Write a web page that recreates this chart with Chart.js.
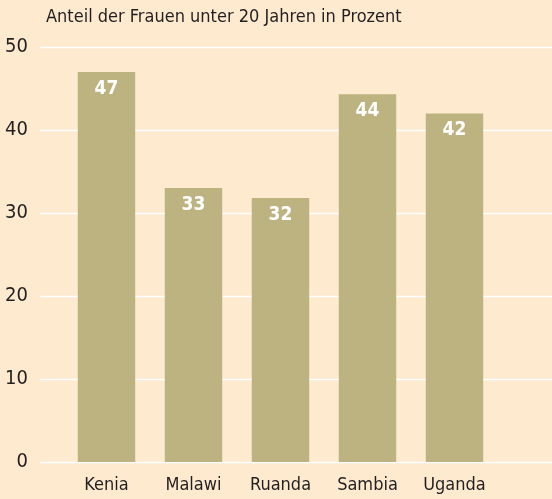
<!DOCTYPE html>
<html>
<head>
<meta charset="utf-8">
<script src="https://cdn.jsdelivr.net/npm/chart.js@4"></script>
<style>
  html, body { margin: 0; padding: 0; background: #fdeacf; overflow: hidden; }
  #wrap { position: relative; width: 552px; height: 499px; }
</style>
</head>
<body>
<div id="wrap"><canvas id="chartContainer"></canvas></div>
<script>
"use strict";

// 1: data
const countries = ['Kenia', 'Malawi', 'Ruanda', 'Sambia', 'Uganda'];
const shares = [47, 33, 31.8, 44.3, 42];
const yTicks = [0, 10, 20, 30, 40, 50];
const titleText = 'Anteil der Frauen unter 20 Jahren in Prozent';

const FONT = '"Liberation Sans Narrow", "DejaVu Sans Condensed", sans-serif';

// 2: little helpers drawn on the canvas
const gridPlugin = {
  id: 'fullGrid',
  beforeDatasetsDraw(chart) {
    const ctx = chart.ctx;
    const y = chart.scales.y;
    ctx.save();
    ctx.strokeStyle = '#ffffff';
    ctx.lineWidth = 1.5;
    for (const t of yTicks) {
      const py = Math.round(y.getPixelForValue(t)) + 0.5;
      ctx.beginPath();
      ctx.moveTo(40, py);
      ctx.lineTo(chart.width, py);
      ctx.stroke();
    }
    ctx.restore();
  }
};

const labelPlugin = {
  id: 'barLabels',
  afterDatasetsDraw(chart) {
    const ctx = chart.ctx;
    const meta = chart.getDatasetMeta(0);
    ctx.save();
    ctx.fillStyle = '#ffffff';
    ctx.font = 'bold 19px ' + FONT;
    ctx.textAlign = 'center';
    ctx.textBaseline = 'middle';
    meta.data.forEach((bar, i) => {
      ctx.fillText(String(Math.round(shares[i])), bar.x, bar.y + 17);
    });
    ctx.restore();
  }
};

const titlePlugin = {
  id: 'leftTitle',
  afterDraw(chart) {
    const ctx = chart.ctx;
    ctx.save();
    ctx.fillStyle = '#231f20';
    ctx.font = '18px ' + FONT;
    ctx.textAlign = 'left';
    ctx.textBaseline = 'middle';
    ctx.fillText(titleText, 46, 17);
    ctx.restore();
  }
};

// 3: create the chart
function appendChart() {
  const canvas = document.getElementById('chartContainer');
  new Chart(canvas, {
    type: 'bar',
    data: {
      labels: countries,
      datasets: [{
        data: shares,
        backgroundColor: '#bdb380',
        borderWidth: 0,
        barPercentage: 0.66,
        categoryPercentage: 1
      }]
    },
    options: {
      responsive: true,
      maintainAspectRatio: false,
      animation: false,
      layout: { padding: { top: 47, right: 54, bottom: 0, left: 0 } },
      plugins: {
        legend: { display: false },
        tooltip: { enabled: false },
        title: { display: false }
      },
      scales: {
        x: {
          grid: { display: false, drawTicks: false },
          border: { display: false },
          ticks: {
            color: '#231f20',
            font: { family: FONT, size: 18 },
            padding: 13,
            maxRotation: 0
          },
          afterFit(scale) { scale.height = 37; }
        },
        y: {
          min: 0,
          max: 50,
          afterBuildTicks(scale) { scale.ticks = yTicks.map(v => ({ value: v })); },
          grid: { display: false, drawTicks: true, tickLength: 10 },
          border: { display: false },
          ticks: {
            color: '#231f20',
            font: { family: FONT, size: 20 },
            padding: 25
          },
          afterFit(scale) { scale.width = 63; }
        }
      }
    },
    plugins: [gridPlugin, labelPlugin, titlePlugin]
  });
}

appendChart();
</script>
</body>
</html>
